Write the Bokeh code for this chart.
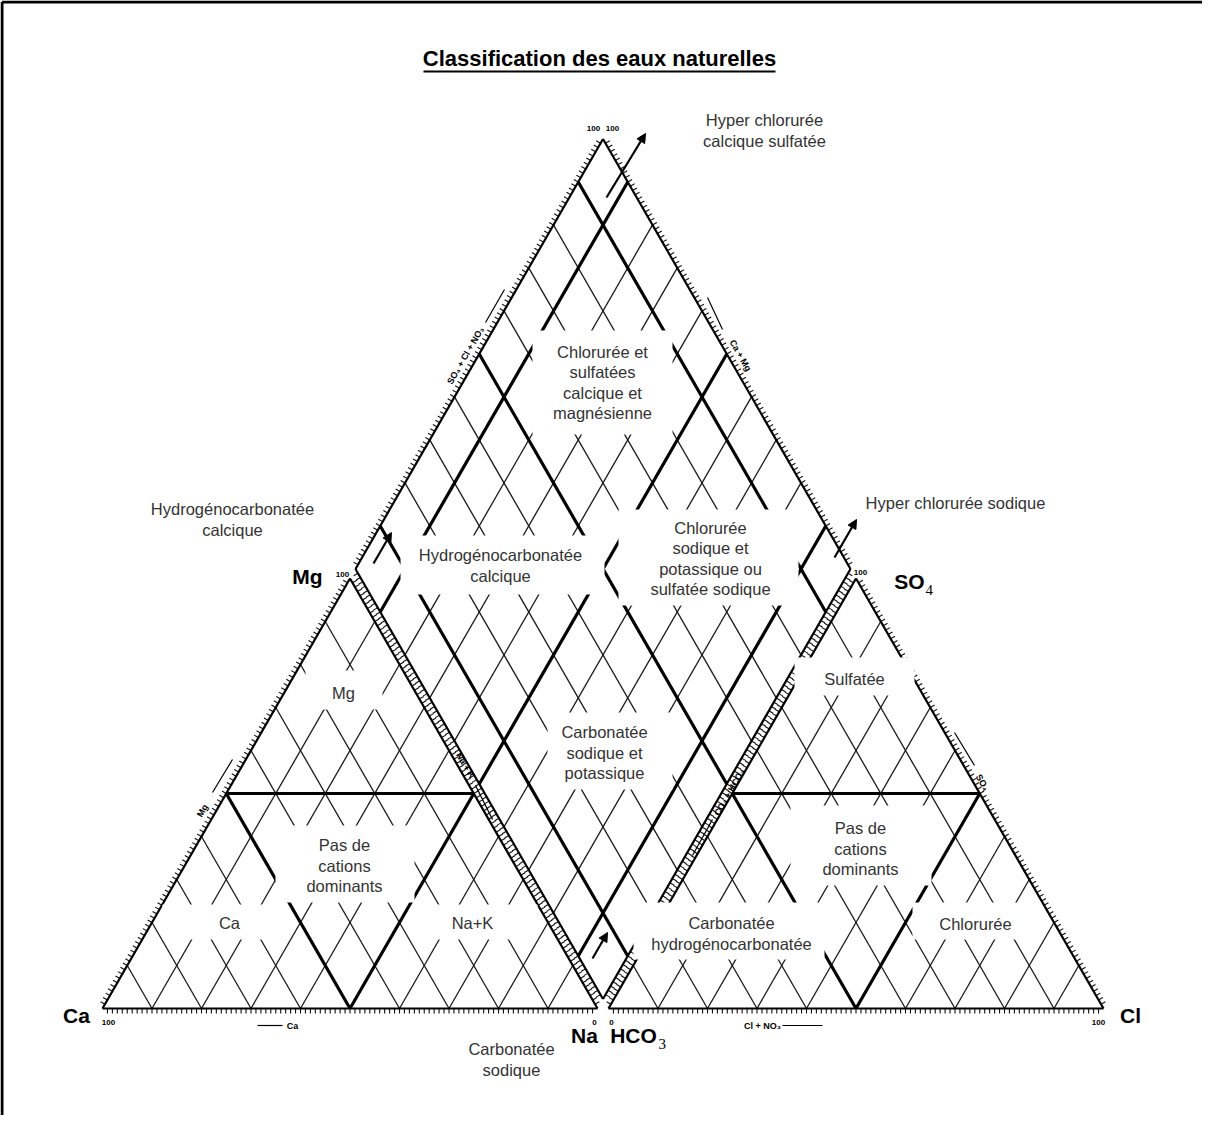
import numpy as np
from bokeh.plotting import figure
from bokeh.models import Range1d, Arrow, NormalHead
from bokeh.embed import file_html
from bokeh.resources import INLINE
from bokeh.core.properties import value

# ---------------- data ----------------
TITLE = "Classification des eaux naturelles"
CATION_VERTICES = ["Ca", "Mg", "Na"]
ANION_VERTICES = ["HCO", "SO", "Cl"]
ANION_SUBSCRIPTS = ["3", "4", ""]
GRID_LEVELS = [10, 20, 30, 40, 50, 60, 70, 80, 90]
DIVISION_LEVEL = 50
DIAMOND_THICK_CAMG = [10, 50, 90]
DIAMOND_THICK_SO4CL = [10, 50, 90]
TICK_LEVELS = list(range(1, 100))

REGION_TEXTS = [
    "Chlorurée et\nsulfatées\ncalcique et\nmagnésienne",
    "Hydrogénocarbonatée\ncalcique",
    "Chlorurée\nsodique et\npotassique ou\nsulfatée sodique",
    "Carbonatée\nsodique et\npotassique",
    "Mg",
    "Pas de\ncations\ndominants",
    "Ca",
    "Na+K",
    "Sulfatée",
    "Pas de\ncations\ndominants",
    "Carbonatée\nhydrogénocarbonatée",
    "Chlorurée",
    "Hyper chlorurée\ncalcique sulfatée",
    "Hydrogénocarbonatée\ncalcique",
    "Hyper chlorurée sodique",
    "Carbonatée\nsodique",
]

# ---------------- layout (screen pixels) ----------------
W, H = 1218, 1131
BASE_Y = 1016.0
CA_X = 110.0
SIDE = 495.0
GAP = 11.0
TRI_H = 430.0
HCO3_X = CA_X + SIDE + GAP


def Y(sy):
    return H - np.asarray(sy, dtype=float)


def cation_xy(ca, mg, na):
    return (CA_X + SIDE * (na + mg / 2.0) / 100.0, BASE_Y - TRI_H * mg / 100.0)


def anion_xy(hco3, so4, cl):
    return (HCO3_X + SIDE * (cl + so4 / 2.0) / 100.0, BASE_Y - TRI_H * so4 / 100.0)


DB = (CA_X + SIDE + GAP / 2.0, BASE_Y - TRI_H * GAP / SIDE)


def diamond_xy(camg, so4cl):
    return (DB[0] + (so4cl - camg) / 100.0 * SIDE / 2.0,
            DB[1] - (camg + so4cl) / 100.0 * TRI_H)


p = figure(width=1202, height=1115, x_range=Range1d(8, 1210), y_range=Range1d(8, 1123),
           output_backend="svg", toolbar_location=None, min_border=0,
           x_axis_location=None, y_axis_location=None)
p.grid.visible = False
p.outline_line_color = None
p.background_fill_color = "white"
p.border_fill_color = "white"

thin, thick = [], []
for lv in GRID_LEVELS:
    thin.append((cation_xy(lv, 0, 100 - lv), cation_xy(lv, 100 - lv, 0)))
    thin.append((cation_xy(100 - lv, 0, lv), cation_xy(0, 100 - lv, lv)))
    thin.append((anion_xy(lv, 0, 100 - lv), anion_xy(lv, 100 - lv, 0)))
    thin.append((anion_xy(100 - lv, 0, lv), anion_xy(0, 100 - lv, lv)))
    thin.append((diamond_xy(lv, 0), diamond_xy(lv, 100)))
    thin.append((diamond_xy(0, lv), diamond_xy(100, lv)))

d = DIVISION_LEVEL
thick += [(cation_xy(d, d, 0), cation_xy(0, d, d)),
          (cation_xy(d, d, 0), cation_xy(d, 0, d)),
          (cation_xy(0, d, d), cation_xy(d, 0, d)),
          (anion_xy(d, d, 0), anion_xy(0, d, d)),
          (anion_xy(d, d, 0), anion_xy(d, 0, d)),
          (anion_xy(0, d, d), anion_xy(d, 0, d))]
for lv in DIAMOND_THICK_CAMG:
    thick.append((diamond_xy(lv, 0), diamond_xy(lv, 100)))
for lv in DIAMOND_THICK_SO4CL:
    thick.append((diamond_xy(0, lv), diamond_xy(100, lv)))


def seg(lst, width, color="black"):
    x0 = [a[0] for a, b in lst]
    y0 = Y([a[1] for a, b in lst])
    x1 = [b[0] for a, b in lst]
    y1 = Y([b[1] for a, b in lst])
    p.segment(x0, y0, x1, y1, line_width=width, line_color=color)


seg(thin, 1.3, "#1a1a1a")
seg(thick, 3.2, "black")

shapes = [
    [cation_xy(100, 0, 0), cation_xy(0, 0, 100), cation_xy(0, 100, 0)],
    [anion_xy(100, 0, 0), anion_xy(0, 0, 100), anion_xy(0, 100, 0)],
    [diamond_xy(0, 0), diamond_xy(0, 100), diamond_xy(100, 100), diamond_xy(100, 0)],
]
edges, ticks = [], []
for poly in shapes:
    c = np.mean(np.array(poly), axis=0)
    for i in range(len(poly)):
        P0 = np.array(poly[i]); P1 = np.array(poly[(i + 1) % len(poly)])
        edges.append((tuple(P0), tuple(P1)))
        dv = P1 - P0
        n = np.array([-dv[1], dv[0]]) / np.hypot(*dv)
        if np.dot(n, (P0 + P1) / 2 - c) < 0:
            n = -n
        for k in TICK_LEVELS:
            pt = P0 + dv * k / 100.0
            ticks.append((tuple(pt), tuple(pt + n * 5.0)))
seg(ticks, 1.1, "#111111")
seg(edges, 2.2, "black")

boxes = [
    (540, 338, 680, 442), (408, 543, 612, 602), (626, 517, 806, 613), (555, 720, 680, 797),
    (313, 678, 390, 717), (283, 833, 422, 910), (170, 912, 287, 947), (420, 912, 545, 947),
    (802, 665, 922, 703), (798, 813, 939, 893), (641, 910, 832, 967), (920, 910, 1047, 947),
    None, None, None, None,
]
centers = [
    (610, 390), (508, 573), (718, 566), (612, 760),
    (351, 700), (352, 873), (237, 930), (480, 930),
    (862, 686), (868, 856), (739, 941), (983, 931),
    (772, 138), (240, 527), (963, 510), (519, 1067),
]
bx = [b for b in boxes if b is not None]
p.quad(left=[b[0] for b in bx], right=[b[2] for b in bx],
       top=Y([b[1] for b in bx]), bottom=Y([b[3] for b in bx]),
       fill_color="white", line_color=None)

LINE_SP = 20.5
tx, ty, tt = [], [], []
for txt, (cx, cy) in zip(REGION_TEXTS, centers):
    lines = txt.split("\n")
    n = len(lines)
    for i, ln in enumerate(lines):
        tx.append(cx)
        ty.append(cy + (i - (n - 1) / 2.0) * LINE_SP)
        tt.append(ln)
p.text(tx, Y(ty), text=tt, text_font=value("Liberation Sans"), text_font_size="16.5px",
       text_color="#333333", text_align="center", text_baseline="middle")

vx = [84, 315, 592, 641, 917, 1138]
vy = [1023, 584, 1043, 1043, 589, 1023]
vt = [CATION_VERTICES[0], CATION_VERTICES[1], CATION_VERTICES[2],
      ANION_VERTICES[0], ANION_VERTICES[1], ANION_VERTICES[2]]
p.text(vx, Y(vy), text=vt, text_font=value("Liberation Sans"), text_font_size="21px",
       text_font_style="bold", text_color="black", text_align="center", text_baseline="middle")
p.text([666, 933], Y([1051, 597]), text=[ANION_SUBSCRIPTS[0], ANION_SUBSCRIPTS[1]],
       text_font=value("Liberation Serif"), text_font_size="15px", text_color="black",
       text_align="left", text_baseline="middle")

p.text([607], Y([66]), text=[TITLE], text_font=value("Liberation Sans"),
       text_font_size="22px", text_font_style="bold", text_color="black",
       text_align="center", text_baseline="middle")
p.segment([431], Y([79]), [783], Y([79]), line_width=2, line_color="black")

cap_t = ["SO\u2084 + Cl + NO\u2083", "Ca + Mg", "Mg", "Na + K", "CO\u2083 + HCO\u2083", "SO\u2084",
         "Ca", "Cl + NO\u2083"]
cap_x = [473, 748, 210, 473, 737, 990, 300, 770]
cap_y = [363, 363, 818, 773, 800, 790, 1033, 1033]
cap_a = [np.pi / 3, -np.pi / 3, np.pi / 3, -np.pi / 3, np.pi / 3, -np.pi / 3, 0, 0]
p.text(cap_x, Y(cap_y), text=cap_t, angle=cap_a, text_font=value("Liberation Sans"),
       text_font_size="9px", text_font_style="bold", text_color="black",
       text_align="center", text_baseline="middle")
pl = [((493, 330), (512, 297)), ((715, 305), (730, 337)), ((220, 800), (240, 767)),
      ((483, 793), (500, 827)), ((700, 863), (720, 827)), ((962, 740), (982, 773)),
      ((265, 1033), (290, 1033)), ((790, 1033), (830, 1033))]
seg(pl, 1.2, "black")

nt = ["100", "0", "0", "100", "100", "100", "100", "100"]
nx = [116, 602, 619, 1106, 350, 868, 601, 620]
ny = [1030, 1030, 1030, 1030, 582, 580, 136, 136]
p.text(nx, Y(ny), text=nt, text_font=value("Liberation Sans"), text_font_size="8px",
       text_font_style="bold", text_color="black", text_align="center", text_baseline="middle")

arrows = [((614, 205), (653, 141)), ((842, 565), (864, 527)),
          ((381, 571), (399, 540)), ((600, 966), (615, 940))]
for (a, b) in arrows:
    p.add_layout(Arrow(end=NormalHead(size=9, fill_color="black", line_color="black"),
                       x_start=a[0], y_start=float(Y(a[1])), x_end=b[0], y_end=float(Y(b[1])),
                       line_width=2.2, line_color="black"))

p.segment([9.5, 9.5], Y([9.5, 9.5]), [9.5, 1210], Y([1123, 9.5]), line_width=3, line_color="black")

open("out.html", "w").write(file_html(p, INLINE))
